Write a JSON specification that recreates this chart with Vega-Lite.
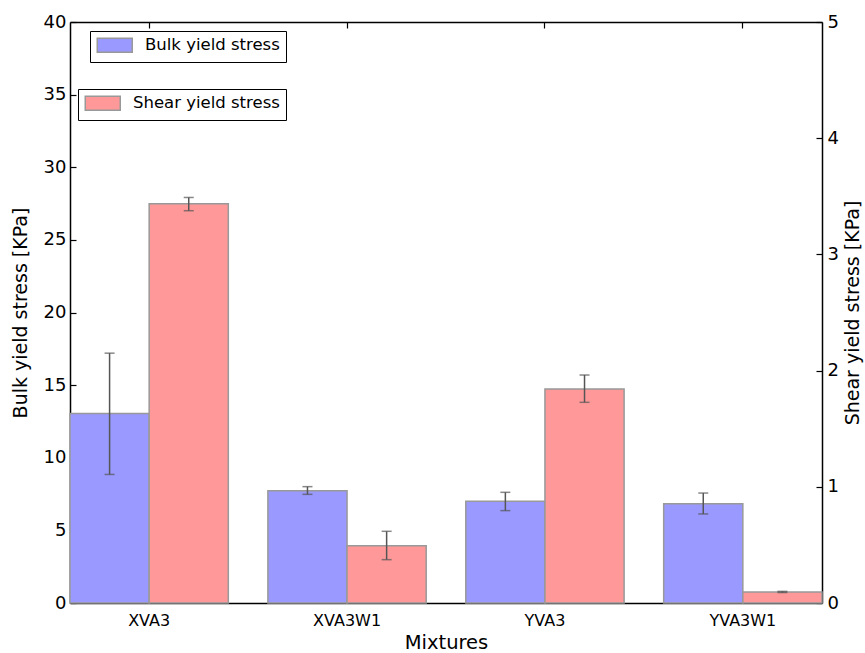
{
  "$schema": "https://vega.github.io/schema/vega-lite/v6.json",
  "width": 752,
  "height": 581,
  "autosize": {"type": "none"},
  "padding": {"left": 70, "top": 22, "right": 43, "bottom": 50},
  "config": {
    "font": "DejaVu Sans",
    "view": {"stroke": null},
    "axis": {"grid": false, "domain": true, "domainColor": "black", "domainWidth": 1.5, "ticks": true, "tickColor": "black", "tickWidth": 1.2, "labelColor": "black", "titleColor": "black", "titleFontWeight": "normal"}
  },
  "data": {
    "values": [
      {"mixture": "XVA3", "series": "Bulk yield stress", "value": 13.05, "lo": 8.85, "hi": 17.2},
      {"mixture": "XVA3W1", "series": "Bulk yield stress", "value": 7.73, "lo": 7.48, "hi": 8.01},
      {"mixture": "YVA3", "series": "Bulk yield stress", "value": 7.0, "lo": 6.36, "hi": 7.62},
      {"mixture": "YVA3W1", "series": "Bulk yield stress", "value": 6.84, "lo": 6.13, "hi": 7.57},
      {"mixture": "XVA3", "series": "Shear yield stress", "value": 3.435, "lo": 3.376, "hi": 3.49},
      {"mixture": "XVA3W1", "series": "Shear yield stress", "value": 0.493, "lo": 0.373, "hi": 0.617},
      {"mixture": "YVA3", "series": "Shear yield stress", "value": 1.842, "lo": 1.727, "hi": 1.962},
      {"mixture": "YVA3W1", "series": "Shear yield stress", "value": 0.095, "lo": 0.09, "hi": 0.1}
    ]
  },
  "layer": [
    {
      "transform": [{"filter": "datum.series === 'Bulk yield stress'"}],
      "encoding": {
        "x": {"field": "mixture", "type": "nominal", "sort": ["XVA3", "XVA3W1", "YVA3", "YVA3W1"],
          "scale": {"paddingInner": 0.2, "paddingOuter": 0},
          "axis": {"orient": "bottom", "labelAngle": 0, "labelFontSize": 16, "tickSize": -6, "labelPadding": 15, "title": "Mixtures", "titleFontSize": 19.5, "titlePadding": 5}},
        "xOffset": {"field": "series", "type": "nominal", "scale": {"domain": ["Bulk yield stress", "Shear yield stress"], "paddingInner": 0, "paddingOuter": 0}}
      },
      "layer": [
        {
          "mark": {"type": "bar", "stroke": "#999999", "strokeWidth": 1.5},
          "encoding": {
            "y": {"field": "value", "type": "quantitative", "title": "Bulk yield stress [KPa]", "scale": {"domain": [0, 40], "nice": false},
              "axis": {"orient": "left", "values": [0, 5, 10, 15, 20, 25, 30, 35, 40], "format": "d", "tickSize": -6, "labelFontSize": 18, "labelPadding": 10, "titleFontSize": 19, "titlePadding": 13}},
            "fill": {"field": "series", "type": "nominal", "scale": {"range": ["#9999ff"]},
              "legend": {"orient": "none", "legendX": 20, "legendY": 9, "title": null, "strokeColor": "black", "fillColor": "white", "padding": 6,
                "symbolType": "M-2.5,-1L2.5,-1L2.5,1L-2.5,1Z", "symbolSize": 196, "symbolOffset": 10.5, "symbolStrokeColor": "#999999", "symbolStrokeWidth": 1.5,
                "labelFontSize": 16.5, "labelOffset": 22, "labelColor": "black"}}
          }
        },
        {
          "mark": {"type": "rule", "color": "#555555", "strokeWidth": 1.5},
          "encoding": {"y": {"field": "lo", "type": "quantitative", "title": "Bulk yield stress [KPa]"}, "y2": {"field": "hi"}}
        },
        {
          "mark": {"type": "tick", "color": "#555555", "size": 10, "thickness": 1.5},
          "encoding": {"y": {"field": "lo", "type": "quantitative", "title": "Bulk yield stress [KPa]"}}
        },
        {
          "mark": {"type": "tick", "color": "#555555", "size": 10, "thickness": 1.5},
          "encoding": {"y": {"field": "hi", "type": "quantitative", "title": "Bulk yield stress [KPa]"}}
        }
      ]
    },
    {
      "transform": [{"filter": "datum.series === 'Shear yield stress'"}],
      "encoding": {
        "x": {"field": "mixture", "type": "nominal", "sort": ["XVA3", "XVA3W1", "YVA3", "YVA3W1"],
          "scale": {"paddingInner": 0.2, "paddingOuter": 0},
          "axis": {"orient": "top", "labels": false, "tickSize": -6, "title": null}},
        "xOffset": {"field": "series", "type": "nominal", "scale": {"domain": ["Bulk yield stress", "Shear yield stress"], "paddingInner": 0, "paddingOuter": 0}}
      },
      "layer": [
        {
          "mark": {"type": "bar", "stroke": "#999999", "strokeWidth": 1.5},
          "encoding": {
            "y": {"field": "value", "type": "quantitative", "title": "Shear yield stress [KPa]", "scale": {"domain": [0, 5], "nice": false},
              "axis": {"orient": "right", "values": [0, 1, 2, 3, 4, 5], "format": "d", "tickSize": -6, "labelFontSize": 18, "labelPadding": 11, "titleFontSize": 19, "titleAngle": 270, "titleBaseline": "top", "titlePadding": 5}},
            "fill": {"field": "series", "type": "nominal", "scale": {"range": ["#ff9999"]},
              "legend": {"orient": "none", "legendX": 8, "legendY": 67, "title": null, "strokeColor": "black", "fillColor": "white", "padding": 6,
                "symbolType": "M-2.5,-1L2.5,-1L2.5,1L-2.5,1Z", "symbolSize": 196, "symbolOffset": 10.5, "symbolStrokeColor": "#999999", "symbolStrokeWidth": 1.5,
                "labelFontSize": 16.5, "labelOffset": 22, "labelColor": "black"}}
          }
        },
        {
          "mark": {"type": "rule", "color": "#555555", "strokeWidth": 1.5},
          "encoding": {"y": {"field": "lo", "type": "quantitative", "title": "Shear yield stress [KPa]"}, "y2": {"field": "hi"}}
        },
        {
          "mark": {"type": "tick", "color": "#555555", "size": 10, "thickness": 1.5},
          "encoding": {"y": {"field": "lo", "type": "quantitative", "title": "Shear yield stress [KPa]"}}
        },
        {
          "mark": {"type": "tick", "color": "#555555", "size": 10, "thickness": 1.5},
          "encoding": {"y": {"field": "hi", "type": "quantitative", "title": "Shear yield stress [KPa]"}}
        }
      ]
    }
  ],
  "resolve": {"scale": {"y": "independent", "fill": "independent"}, "axis": {"x": "independent"}}
}
